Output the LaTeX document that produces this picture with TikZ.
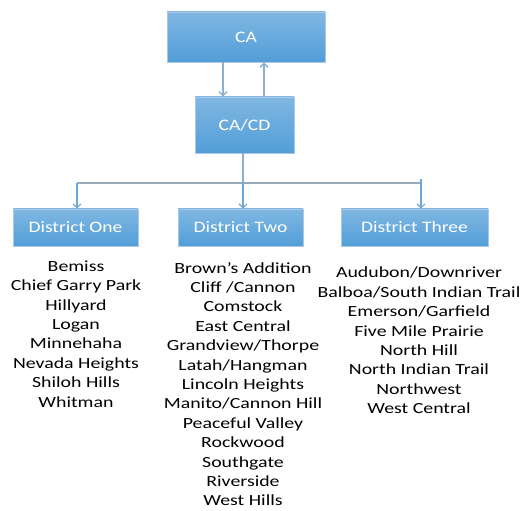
\documentclass[tikz,border=0pt]{standalone}
\usepackage{fontspec}
\setmainfont{Carlito}
\newfontfamily\boxfont[FakeStretch=1.22]{Carlito}
\newfontfamily\lstfont[FakeStretch=1.28]{Carlito}
\usetikzlibrary{arrows.meta}
\definecolor{boxtop}{RGB}{128,183,226}
\definecolor{boxbot}{RGB}{82,158,216}
\definecolor{boxedge}{RGB}{170,200,230}
\definecolor{lnk}{RGB}{140,176,206}
\definecolor{lnkd}{RGB}{106,168,220}
\definecolor{lnkgray}{RGB}{154,170,184}
\tikzset{
  box/.style ={draw=boxedge, line width=0.6pt, top color=boxtop, bottom color=boxbot,
               text=white, font=\boxfont\fontsize{16}{19}\selectfont, inner sep=0pt},
  lst/.style ={align=center, anchor=north, inner sep=0pt,
               font=\lstfont\fontsize{15.5}{19.4}\selectfont},
  ptr/.style ={draw=lnk, line width=1.4pt, -{Straight Barb[length=4pt,width=8pt]}},
  ptrd/.style={draw=lnkd, line width=1.2pt, -{Straight Barb[length=4pt,width=8pt]}},
}
\begin{document}
\begin{tikzpicture}[x=1pt,y=-1pt]
  \useasboundingbox (0,0) rectangle (526,510);
  \node[box,minimum width=158pt,minimum height=50pt] (ca) at (246,37) {CA};
  \node[box,minimum width=99pt,minimum height=56pt] (cacd) at (244.5,125) {CA/CD};
  \draw[ptr] ([xshift=-23pt]ca.south) -- ([xshift=-23pt]ca.south |- cacd.north);
  \draw[ptr] ([xshift=19.5pt]cacd.north) -- ([xshift=19.5pt]cacd.north |- ca.south);
  % districts
  \node[box,minimum width=125pt,minimum height=37pt] (d1) at (75.5,227.5) {District One};
  \node[box,minimum width=125pt,minimum height=37pt] (d2) at (240.5,227.5) {District Two};
  \node[box,minimum width=147pt,minimum height=37pt] (d3) at (414.5,227.5) {District Three};
  \coordinate (hl) at (77,183);
  \coordinate (hr) at (421,183);
  \coordinate (ht) at (421,179);
  \draw[draw=lnkgray,line width=1.4pt] (hl) -- (hr);
  \draw[draw=lnk,line width=1.4pt] ([xshift=-1.5pt]cacd.south) -- ([xshift=-1.5pt]cacd.south |- hl);
  \draw[ptrd] (hl) -- (hl |- d1.north);
  \draw[ptrd] ([xshift=-1.5pt]cacd.south |- hl) -- ([xshift=-1.5pt]cacd.south |- d2.north);
  \draw[ptrd] (ht) -- (ht |- d3.north);
  % neighbourhoods
  \node[lst] (n1) at (76,260.5) {Bemiss\\Chief Garry Park\\Hillyard\\Logan\\Minnehaha\\Nevada Heights\\Shiloh Hills\\Whitman};
  \node[lst] (n2) at (243,262) {Brown’s Addition\\Cliff /Cannon\\Comstock\\East Central\\Grandview/Thorpe\\Latah/Hangman\\Lincoln Heights\\Manito/Cannon Hill\\Peaceful Valley\\Rockwood\\Southgate\\Riverside\\West Hills};
  \node[lst] (n3) at (419,267) {Audubon/Downriver\\Balboa/South Indian Trail\\Emerson/Garfield\\Five Mile Prairie\\North Hill\\North Indian Trail\\Northwest\\West Central};
\end{tikzpicture}
\end{document}
